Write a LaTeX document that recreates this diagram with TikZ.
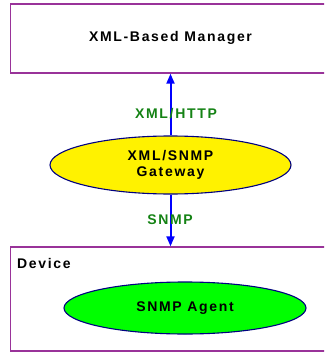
\documentclass[tikz,border=0pt]{standalone}
\usepackage{fontspec}
\setmainfont{Liberation Sans}[LetterSpace=12]
\usepackage{tikz}
\usepackage{xcolor}
\usetikzlibrary{arrows.meta, shapes.geometric}

\definecolor{boxline}{RGB}{153,51,153}
\definecolor{ovalline}{RGB}{0,0,128}
\definecolor{linkblue}{RGB}{0,0,255}
\definecolor{protogreen}{RGB}{20,130,20}

\tikzset{
  unit/.style={draw=boxline, line width=1.4pt, fill=white, rectangle, inner sep=0pt, anchor=west, minimum width=340pt},
  oval/.style={draw=ovalline, line width=1.1pt, ellipse, inner sep=0pt, align=center},
  link/.style={draw=linkblue, line width=2pt, -{Triangle[length=10pt, width=8pt]}},
  proto/.style={text=protogreen},
}

\begin{document}
\begin{tikzpicture}[x=1pt, y=-1pt, font=\fontsize{14}{16}\selectfont\bfseries]
  \useasboundingbox (0,0) rectangle (324,353);
  \clip (0,0) rectangle (324,353);
  % the two boxes run past the right edge
  \node[unit, minimum height=69pt] (manager) at (10,38.5) {};
  \node (mgrlab) at (170.5,38) {XML-Based Manager};
  \node[unit, minimum height=104pt] (device) at (10,299) {};
  \node[anchor=base west, inner sep=0pt] (devlab) at (17,268) {Device};
  % gateway and agent
  \node[oval, fill=yellow, minimum width=241pt, minimum height=58pt] (gateway) at (170.5,165) {XML/SNMP\\Gateway};
  \node[oval, fill=green, minimum width=242pt, minimum height=52pt] (agent) at (185,308) {SNMP Agent};
  % links
  \draw[link] (gateway.north) -- (gateway.north |- manager.south);
  \draw[link] (gateway.south) -- (gateway.south |- device.north);
  \node[proto] (httplab) at (176,114) {XML/HTTP};
  \node[proto] (snmplab) at (170,219.5) {SNMP};
\end{tikzpicture}
\end{document}
